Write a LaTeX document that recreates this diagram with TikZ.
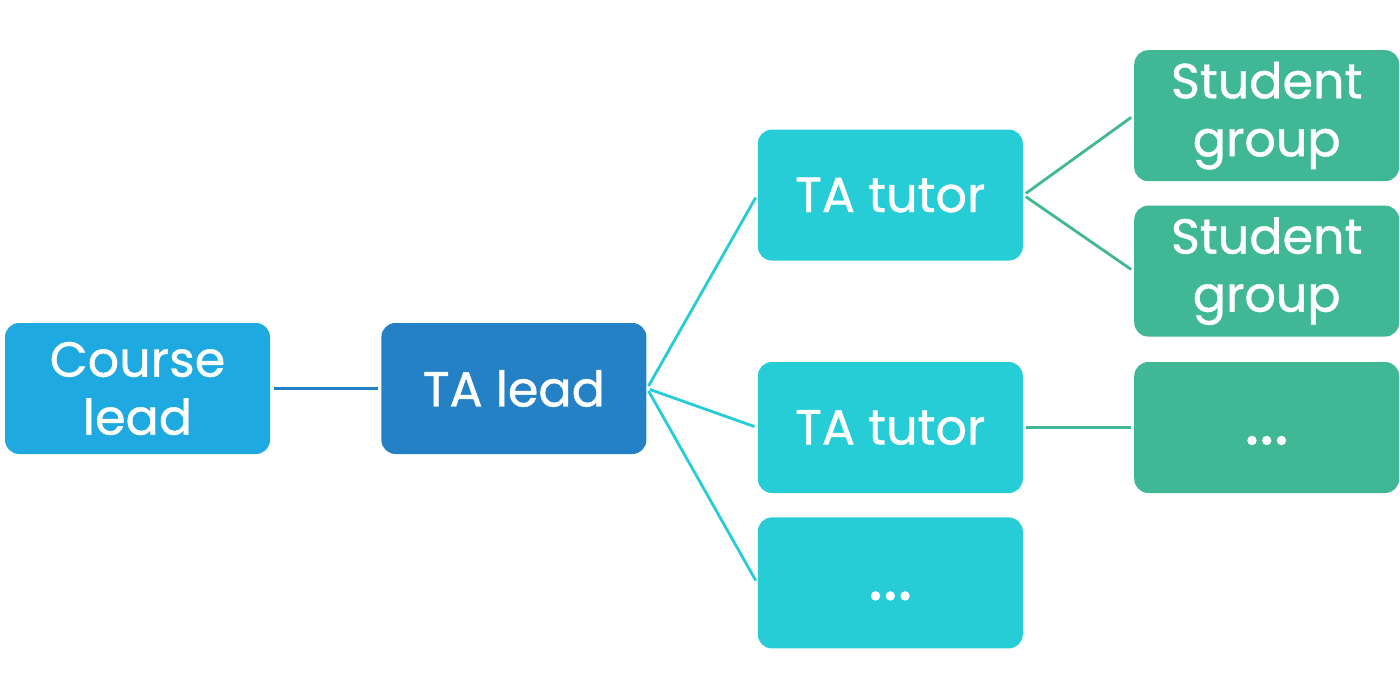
\documentclass[tikz,border=0pt]{standalone}
\usepackage{fontspec}
\setmainfont{Poppins}
\newfontfamily\boxfont{Poppins}[FakeBold=0.9]
\usepackage{tikz}
\usetikzlibrary{positioning}
\definecolor{courseblue}{HTML}{1FA9E1}
\definecolor{leadblue}{HTML}{2581C5}
\definecolor{tutorcyan}{HTML}{26CCD6}
\definecolor{groupgreen}{HTML}{41B895}

\tikzset{
  orgbox/.style={rounded corners=4pt, minimum width=2.65cm, minimum height=1.31cm,
                 inner sep=0pt, align=center, text=white, font=\boxfont\fontsize{14}{16.5}\selectfont},
  link/.style={line width=0.8pt, shorten <=0.8pt, shorten >=0.8pt}
}
\newcommand{\moredots}{\vphantom{T}{\fontsize{20}{20}\selectfont...}}

\begin{document}
\begin{tikzpicture}[node distance=1.1cm]
  \useasboundingbox (0,0) rectangle (14,-6.96);
  % left column
  \node[orgbox, fill=courseblue] (course) at (1.375,-3.885) {Course\\lead};
  \node[orgbox, fill=leadblue, right=1.1cm of course] (talead) {TA lead};
  % tutors
  \node[orgbox, fill=tutorcyan, right=1.1cm of talead, yshift=-0.39cm] (tutorb) {TA tutor};
  \node[orgbox, fill=tutorcyan, above=1cm of tutorb] (tutora) {TA tutor};
  \node[orgbox, fill=tutorcyan, below=0.23cm of tutorb] (tutormore) {\moredots};
  % student groups
  \node[orgbox, fill=groupgreen, right=1.1cm of tutorb] (groupmore) {\moredots};
  \node[orgbox, fill=groupgreen, above=0.24cm of groupmore] (groupb) {Student\\group};
  \node[orgbox, fill=groupgreen, above=0.23cm of groupb] (groupa) {Student\\group};

  \draw[link, leadblue] (course) -- (talead);
  \draw[link, tutorcyan] (talead.east) -- (tutora.west);
  \draw[link, tutorcyan] (talead.east) -- (tutorb.west);
  \draw[link, tutorcyan] (talead.east) -- (tutormore.west);
  \draw[link, groupgreen] (tutora.east) -- (groupa.west);
  \draw[link, groupgreen] (tutora.east) -- (groupb.west);
  \draw[link, groupgreen] (tutorb) -- (groupmore);
\end{tikzpicture}
\end{document}
